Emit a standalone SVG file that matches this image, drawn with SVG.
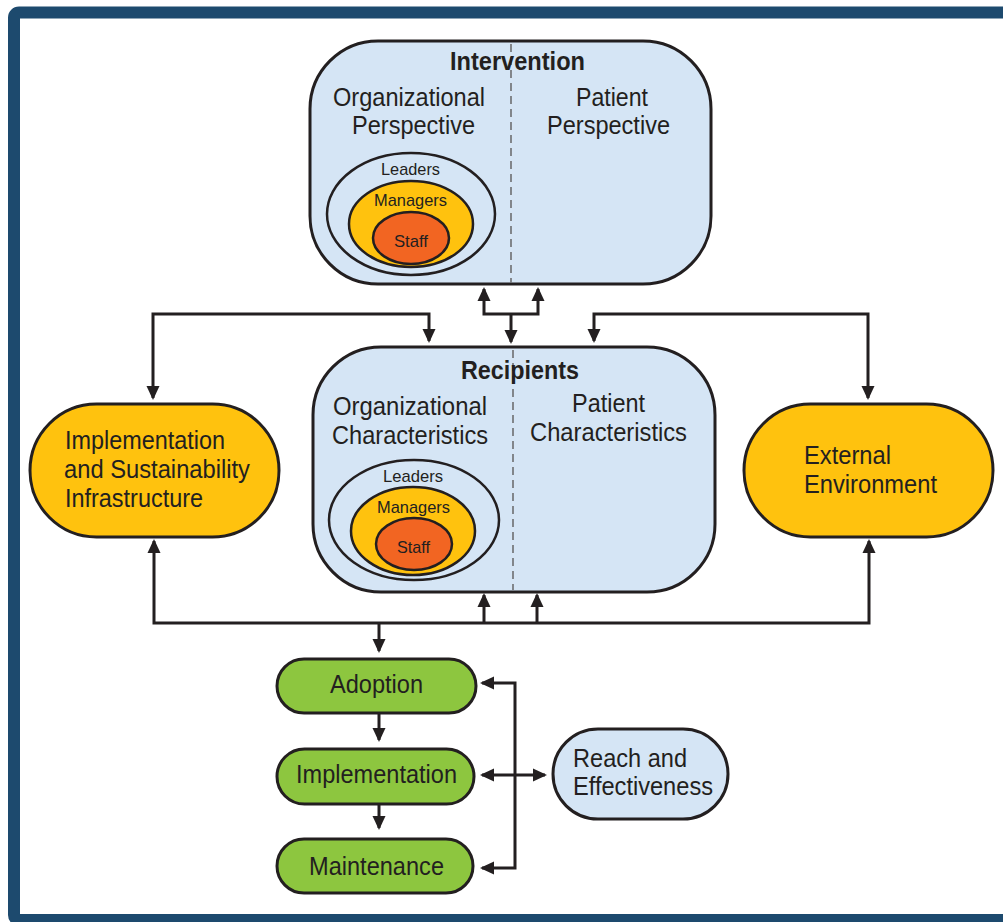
<svg xmlns="http://www.w3.org/2000/svg" width="1003" height="922" viewBox="0 0 1003 922">
<style>
.t{font-family:"Liberation Sans",Arial,Helvetica,sans-serif;fill:#231f20;font-size:26px}
.b{font-weight:bold;font-size:25px}
.s{font-size:17px}
.node{stroke:#231f20;stroke-width:3}
.blue{fill:#d5e5f5}
.yel{fill:#ffc20e}
.grn{fill:#8dc63f}
.org{fill:#f26522}
.ell{stroke:#231f20;stroke-width:2.5}
.dash{stroke:#6d6e71;stroke-width:1.6;stroke-dasharray:8 5;fill:none}
.c{fill:none;stroke:#231f20;stroke-width:3;stroke-linejoin:miter}
.e{marker-end:url(#ah)}
.se{marker-start:url(#ah);marker-end:url(#ah)}
</style>
<defs>
<marker id="ah" markerUnits="userSpaceOnUse" markerWidth="14" markerHeight="14" viewBox="0 0 14 14" refX="12" refY="7" orient="auto-start-reverse">
<path d="M0,0.5 L14,7 L0,13.5 Z" fill="#231f20"/>
</marker>
</defs>
<rect x="0" y="0" width="1003" height="922" fill="#ffffff"/>
<rect id="frame" x="14" y="12.5" width="1010" height="907.5" rx="5" fill="none" stroke="#1d4a6e" stroke-width="12"/>

<g id="connectors">
<path class="c se" d="M484,289 V314 H538 V289"/>
<path class="c e" d="M511,314 V342"/>
<path class="c se" d="M153,398 V314 H429 V341"/>
<path class="c se" d="M868,398 V314 H594 V341"/>
<path class="c se" d="M154,541 V623 H869 V541"/>
<path class="c e" d="M484,623 V595"/>
<path class="c e" d="M537,623 V595"/>
<path class="c e" d="M379,623 V651"/>
<path class="c e" d="M379,713 V740"/>
<path class="c e" d="M379,804 V828"/>
<path class="c se" d="M482,683 H515 V868 H482"/>
<path class="c se" d="M482,775 H545"/>
</g>

<g id="intervention">
<rect class="node blue" x="310" y="41" width="401" height="243" rx="68"/>
<line class="dash" x1="511" y1="44" x2="511" y2="283"/>
<text class="t b" x="450" y="70" textLength="135" lengthAdjust="spacingAndGlyphs">Intervention</text>
<text class="t" x="333" y="106" textLength="152" lengthAdjust="spacingAndGlyphs">Organizational</text>
<text class="t" x="352" y="134" textLength="123" lengthAdjust="spacingAndGlyphs">Perspective</text>
<text class="t" x="576" y="106" textLength="72" lengthAdjust="spacingAndGlyphs">Patient</text>
<text class="t" x="547" y="134" textLength="123" lengthAdjust="spacingAndGlyphs">Perspective</text>
<ellipse class="ell" cx="411" cy="214" rx="84" ry="61" fill="none"/>
<ellipse class="ell yel" cx="411" cy="224" rx="62" ry="43"/>
<ellipse class="ell org" cx="411" cy="238" rx="38" ry="26"/>
<text class="t s" x="381" y="175" textLength="59" lengthAdjust="spacingAndGlyphs">Leaders</text>
<text class="t s" x="374" y="206" textLength="73" lengthAdjust="spacingAndGlyphs">Managers</text>
<text class="t s" x="394" y="247" textLength="34" lengthAdjust="spacingAndGlyphs">Staff</text>
</g>

<g id="recipients">
<rect class="node blue" x="313" y="347" width="402" height="245" rx="68"/>
<line class="dash" x1="513" y1="350" x2="513" y2="590"/>
<text class="t b" x="461" y="379" textLength="118" lengthAdjust="spacingAndGlyphs">Recipients</text>
<text class="t" x="333" y="415" textLength="154" lengthAdjust="spacingAndGlyphs">Organizational</text>
<text class="t" x="332" y="444" textLength="156" lengthAdjust="spacingAndGlyphs">Characteristics</text>
<text class="t" x="572" y="412" textLength="73" lengthAdjust="spacingAndGlyphs">Patient</text>
<text class="t" x="530" y="441" textLength="157" lengthAdjust="spacingAndGlyphs">Characteristics</text>
<ellipse class="ell" cx="414" cy="520" rx="85" ry="60" fill="none"/>
<ellipse class="ell yel" cx="413" cy="531" rx="62" ry="44"/>
<ellipse class="ell org" cx="414" cy="544" rx="38" ry="26"/>
<text class="t s" x="383" y="482" textLength="60" lengthAdjust="spacingAndGlyphs">Leaders</text>
<text class="t s" x="377" y="513" textLength="73" lengthAdjust="spacingAndGlyphs">Managers</text>
<text class="t s" x="397" y="553" textLength="33" lengthAdjust="spacingAndGlyphs">Staff</text>
</g>

<g id="infrastructure">
<rect class="node yel" x="30" y="404" width="249" height="133" rx="66.5"/>
<text class="t" x="65" y="449" textLength="160" lengthAdjust="spacingAndGlyphs">Implementation</text>
<text class="t" x="64" y="478" textLength="186" lengthAdjust="spacingAndGlyphs">and Sustainability</text>
<text class="t" x="65" y="507" textLength="138" lengthAdjust="spacingAndGlyphs">Infrastructure</text>
</g>

<g id="external">
<rect class="node yel" x="744" y="404" width="249" height="133" rx="66.5"/>
<text class="t" x="804" y="464" textLength="87" lengthAdjust="spacingAndGlyphs">External</text>
<text class="t" x="804" y="493" textLength="133" lengthAdjust="spacingAndGlyphs">Environment</text>
</g>

<g id="adoption">
<rect class="node grn" x="277" y="659" width="199" height="54" rx="27"/>
<text class="t" x="330" y="693" textLength="93" lengthAdjust="spacingAndGlyphs">Adoption</text>
</g>

<g id="implementation">
<rect class="node grn" x="277" y="749" width="197" height="55" rx="27.5"/>
<text class="t" x="296" y="783" textLength="161" lengthAdjust="spacingAndGlyphs">Implementation</text>
</g>

<g id="maintenance">
<rect class="node grn" x="277" y="839" width="196" height="54" rx="27"/>
<text class="t" x="309" y="875" textLength="135" lengthAdjust="spacingAndGlyphs">Maintenance</text>
</g>

<g id="reach">
<rect class="node blue" x="553" y="729" width="175" height="90" rx="45"/>
<text class="t" x="573" y="767" textLength="114" lengthAdjust="spacingAndGlyphs">Reach and</text>
<text class="t" x="573" y="795" textLength="140" lengthAdjust="spacingAndGlyphs">Effectiveness</text>
</g>
</svg>
